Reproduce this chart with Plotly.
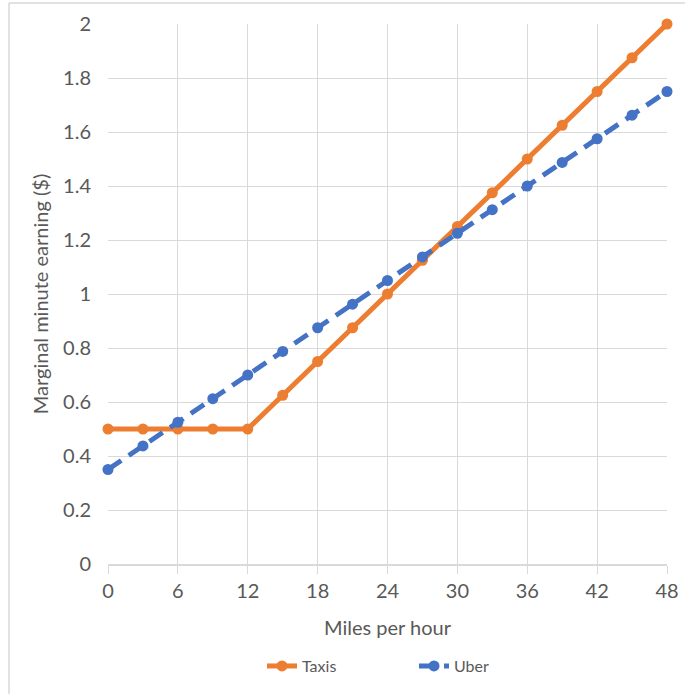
import plotly.graph_objects as go

mph = [0, 3, 6, 9, 12, 15, 18, 21, 24, 27, 30, 33, 36, 39, 42, 45, 48]
taxis = [0.5, 0.5, 0.5, 0.5, 0.5, 0.625, 0.75, 0.875, 1.0, 1.125, 1.25, 1.375, 1.5, 1.625, 1.75, 1.875, 2.0]
uber = [0.35, 0.4375, 0.525, 0.6125, 0.70, 0.7875, 0.875, 0.9625, 1.05, 1.1375, 1.225, 1.3125, 1.4, 1.4875, 1.575, 1.6625, 1.75]
x_ticks = [0, 6, 12, 18, 24, 30, 36, 42, 48]
y_ticks = [0, 0.2, 0.4, 0.6, 0.8, 1, 1.2, 1.4, 1.6, 1.8, 2]

ORANGE = "#ED7D31"
BLUE = "#4472C4"
FONT = "Lato"

fig = go.Figure()
fig.add_trace(go.Scatter(x=mph, y=taxis, name="Taxis", mode="lines+markers",
                         line=dict(color=ORANGE, width=5),
                         marker=dict(color=ORANGE, size=11), cliponaxis=False))
fig.add_trace(go.Scatter(x=mph, y=uber, name="Uber", mode="lines+markers",
                         line=dict(color=BLUE, width=5, dash="16px,9px"),
                         marker=dict(color=BLUE, size=11), cliponaxis=False))

fig.update_layout(
    width=685, height=694,
    margin=dict(l=108, r=18, t=24, b=130, autoexpand=False),
    paper_bgcolor="white", plot_bgcolor="white",
    font=dict(family=FONT, color="#595959", size=20),
    showlegend=True,
    legend=dict(orientation="h", x=(262 - 108) / 559, xanchor="left", y=-0.189, yanchor="middle",
                font=dict(size=16, color="#595959"), entrywidth=107, entrywidthmode="pixels"),
    xaxis=dict(range=[0, 48], tickvals=x_ticks, ticktext=[str(v) for v in x_ticks],
               showgrid=True, gridcolor="#D9D9D9", gridwidth=1,
               ticks="outside", ticklen=8, tickcolor="#D9D9D9",
               showline=True, linecolor="#D9D9D9", linewidth=1.5,
               zeroline=False, automargin=False,
               title=dict(text="Miles per hour", standoff=20, font=dict(size=20, color="#595959"))),
    yaxis=dict(range=[0, 2], tickvals=y_ticks, ticktext=[f"{v:g}" for v in y_ticks],
               showgrid=True, gridcolor="#D9D9D9", gridwidth=1,
               zeroline=False, showline=False, ticks="", ticklabelstandoff=16, automargin=False,
               title=dict(text="Marginal minute earning ($)", standoff=9, font=dict(size=20, color="#595959"))),
    shapes=[
        dict(type="line", xref="paper", yref="paper",
             x0=(9 - 108) / 559, x1=(9 - 108) / 559, y0=(564 - 3) / 540, y1=-130 / 540,
             line=dict(color="#D9D9D9", width=1.5)),
        dict(type="line", xref="paper", yref="paper",
             x0=(9 - 108) / 559, x1=(685 - 108) / 559, y0=(564 - 3) / 540, y1=(564 - 3) / 540,
             line=dict(color="#D9D9D9", width=1.5)),
    ],
)

fig.write_html("out.html")
